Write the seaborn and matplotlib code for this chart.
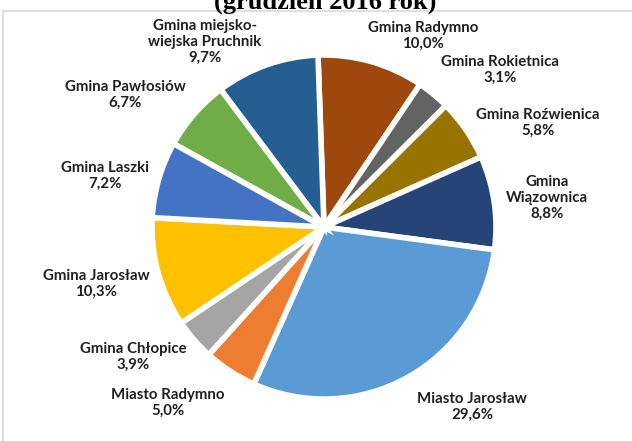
import matplotlib.pyplot as plt
import seaborn as sns
from matplotlib.patches import Rectangle

# Share of each commune (December 2016), clockwise from 12 o'clock
names = [
    "Gmina Radymno",
    "Gmina Rokietnica",
    "Gmina Roźwienica",
    "Gmina\nWiązownica",
    "Miasto Jarosław",
    "Miasto Radymno",
    "Gmina Chłopice",
    "Gmina Jarosław",
    "Gmina Laszki",
    "Gmina Pawłosiów",
    "Gmina miejsko-\nwiejska Pruchnik",
]
shares = [10.0, 3.1, 5.8, 8.8, 29.6, 5.0, 3.9, 10.3, 7.2, 6.7, 9.7]
colors = ["#9E480E", "#636363", "#997300", "#264478", "#5B9BD5", "#ED7D31",
          "#A5A5A5", "#FFC000", "#4472C4", "#70AD47", "#255E91"]
explode = [0, 0, 0, 0, 0.05, 0, 0, 0, 0, 0, 0]

# label centres in pixels (x, y from top), layout only
label_pos = [(423, 36), (500, 70), (538, 123), (547, 198), (472, 407),
             (168, 403), (133, 357), (96, 284), (105, 176), (125, 95),
             (205, 42)]

W, H = 632, 441

sns.set_theme(style="white")
plt.rcParams["font.family"] = ["Lato", "DejaVu Sans"]

fig = plt.figure(figsize=(W / 100, H / 100), dpi=100)
ax = fig.add_axes([0, 0, 1, 1])

ax.pie(shares, colors=colors, explode=explode, startangle=92,
       counterclock=False, radius=172, center=(324, H - 227),
       wedgeprops=dict(edgecolor="white", linewidth=4))
ax.set_xlim(0, W)
ax.set_ylim(0, H)
ax.set_aspect("equal")
ax.axis("off")

for name, val, (x, y) in zip(names, shares, label_pos):
    txt = name + "\n" + f"{val:.1f}".replace(".", ",") + "%"
    ax.text(x, H - y, txt, ha="center", va="center", fontsize=10.8,
            fontweight="bold", color="#1f1f1f", linespacing=1.2)

# chart area frame
ax.add_patch(Rectangle((3, -10), W, H - 11 + 10, fill=False,
                       edgecolor="#D9D9D9", linewidth=1.2))

# title, cut off at the top in the original
ax.text(325, H - 9, "(grudzień 2016 rok)", ha="center", va="baseline",
        fontsize=19, fontweight="bold", family="Liberation Serif",
        color="black", clip_on=False)

fig.savefig("out.png", dpi=100)
